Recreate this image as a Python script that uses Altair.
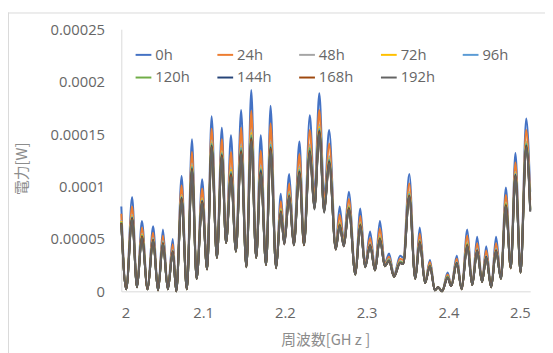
import altair as alt
import pandas as pd

# Frequency [GHz] of the read-off peaks/troughs
freq = [2.0000, 2.0060, 2.0132, 2.0192, 2.0252, 2.0321, 2.0389, 2.0449, 2.0509, 2.0569,
        2.0629, 2.0672, 2.0737, 2.0801, 2.0864, 2.0921, 2.0989, 2.1049, 2.1104, 2.1169,
        2.1229, 2.1281, 2.1341, 2.1401, 2.1465, 2.1529, 2.1589, 2.1649, 2.1705, 2.1770,
        2.1825, 2.1893, 2.1950, 2.1993, 2.2053, 2.2109, 2.2178, 2.2233, 2.2305, 2.2361,
        2.2421, 2.2481, 2.2541, 2.2622, 2.2670, 2.2721, 2.2782, 2.2862, 2.2922, 2.2982,
        2.3042, 2.3102, 2.3162, 2.3222, 2.3274, 2.3334, 2.3409, 2.3448, 2.3521, 2.3594,
        2.3649, 2.3714, 2.3774, 2.3834, 2.3874, 2.3922, 2.3990, 2.4034, 2.4102, 2.4162,
        2.4230, 2.4291, 2.4351, 2.4411, 2.4462, 2.4522, 2.4582, 2.4642, 2.4702, 2.4762,
        2.4819, 2.4882, 2.4951, 2.5000]

# Power values in microwatts, one list per series
p_0h = [81, 2, 90, 4, 67, 2, 62, 1, 59, 2, 50, 0, 110, 2, 145, 12, 107, 21, 167, 34,
        156, 49, 149, 40, 173, 24, 192, 34, 149, 26, 177, 23, 93, 51, 112, 49, 143, 49, 168, 93,
        189, 90, 154, 45, 81, 49, 95, 18, 79, 26, 57, 23, 67, 27, 36, 16, 34, 32, 112, 13,
        61, 9, 30, 1, 4, 0, 18, 6, 34, 2, 59, 7, 52, 10, 43, 4, 52, 13, 99, 24,
        132, 20, 165, 95]
p_24h = [74, 2, 81, 4, 61, 2, 56, 1, 53, 2, 45, 0, 101, 2, 133, 12, 98, 21, 155, 33,
         145, 48, 133, 39, 156, 24, 172, 33, 134, 26, 160, 23, 86, 49, 103, 47, 131, 47, 154, 87,
         173, 84, 141, 43, 73, 47, 88, 17, 72, 25, 51, 22, 60, 26, 33, 15, 31, 30, 103, 13,
         55, 9, 28, 1, 4, 0, 16, 6, 31, 2, 53, 7, 46, 10, 39, 4, 46, 13, 92, 23,
         123, 19, 154, 87]
p_48h = [68, 2, 73, 4, 55, 2, 51, 1, 48, 2, 40, 0, 92, 2, 122, 12, 89, 21, 144, 32,
         134, 47, 118, 38, 140, 23, 154, 32, 120, 25, 143, 22, 79, 46, 95, 45, 119, 45, 140, 81,
         159, 78, 129, 41, 66, 44, 82, 16, 66, 24, 46, 21, 53, 25, 31, 14, 29, 27, 95, 12,
         49, 8, 25, 1, 4, 0, 14, 5, 28, 2, 47, 6, 41, 9, 34, 4, 41, 12, 85, 22,
         114, 18, 143, 80]
p_72h = [67, 2, 72, 4, 54, 2, 50, 1, 47, 2, 39, 0, 91, 2, 120, 12, 88, 21, 142, 32,
         133, 46, 116, 38, 138, 23, 151, 32, 118, 25, 141, 22, 78, 46, 94, 45, 117, 45, 138, 80,
         157, 77, 127, 41, 65, 44, 81, 16, 65, 23, 45, 20, 52, 24, 30, 14, 28, 27, 94, 12,
         48, 8, 25, 1, 4, 0, 14, 5, 27, 2, 46, 6, 40, 9, 33, 4, 40, 12, 84, 22,
         113, 18, 142, 79]
p_96h = [66, 2, 71, 4, 53, 2, 50, 1, 47, 2, 39, 0, 90, 2, 119, 12, 87, 21, 141, 32,
         132, 46, 114, 38, 137, 23, 149, 32, 117, 25, 140, 22, 77, 46, 93, 45, 116, 45, 137, 80,
         155, 77, 126, 41, 64, 44, 80, 16, 64, 23, 45, 20, 51, 24, 30, 14, 28, 27, 93, 12,
         48, 8, 25, 1, 4, 0, 14, 5, 27, 2, 45, 6, 40, 9, 33, 4, 40, 12, 83, 22,
         112, 18, 141, 78]
p_120h = [66, 2, 70, 4, 53, 2, 49, 1, 46, 2, 38, 0, 89, 2, 118, 12, 86, 21, 140, 32,
          131, 46, 113, 38, 135, 23, 148, 32, 116, 25, 138, 22, 77, 46, 92, 44, 115, 44, 136, 79,
          154, 76, 125, 40, 64, 44, 80, 16, 64, 23, 44, 20, 51, 24, 30, 14, 28, 27, 92, 12,
          48, 8, 25, 1, 4, 0, 14, 5, 27, 2, 45, 6, 39, 9, 33, 4, 39, 12, 83, 22,
          111, 18, 140, 78]
p_144h = [65, 2, 70, 4, 52, 2, 49, 1, 46, 2, 38, 0, 89, 2, 117, 12, 86, 21, 139, 32,
          130, 46, 112, 38, 134, 23, 146, 32, 115, 25, 137, 22, 76, 45, 91, 44, 114, 44, 134, 79,
          153, 76, 124, 40, 63, 43, 79, 16, 63, 23, 44, 20, 50, 24, 29, 14, 27, 26, 91, 12,
          47, 8, 24, 1, 4, 0, 13, 5, 27, 2, 44, 6, 39, 9, 33, 4, 39, 12, 82, 22,
          111, 18, 139, 77]
p_168h = [65, 2, 69, 4, 52, 2, 49, 1, 46, 2, 38, 0, 88, 2, 116, 12, 85, 21, 138, 32,
          129, 46, 111, 38, 133, 23, 145, 32, 113, 25, 136, 22, 76, 45, 91, 44, 113, 44, 133, 79,
          152, 76, 123, 40, 63, 43, 79, 16, 63, 23, 44, 20, 50, 24, 29, 14, 27, 26, 91, 12,
          47, 8, 24, 1, 4, 0, 13, 5, 26, 2, 44, 6, 39, 9, 32, 4, 39, 12, 82, 22,
          110, 18, 138, 77]
p_192h = [64, 2, 68, 4, 51, 2, 48, 1, 45, 2, 37, 0, 87, 2, 115, 12, 84, 21, 137, 32,
          128, 46, 109, 38, 131, 23, 143, 32, 112, 25, 134, 22, 75, 45, 90, 44, 112, 44, 132, 78,
          150, 75, 122, 40, 62, 43, 78, 16, 62, 23, 43, 20, 49, 24, 29, 14, 27, 26, 90, 12,
          46, 8, 24, 1, 4, 0, 13, 5, 26, 2, 43, 6, 38, 9, 32, 4, 38, 12, 81, 22,
          109, 18, 137, 76]

series_names = ["0h", "24h", "48h", "72h", "96h", "120h", "144h", "168h", "192h"]
series_vals = [p_0h, p_24h, p_48h, p_72h, p_96h, p_120h, p_144h, p_168h, p_192h]
series_colors = ["#4472C4", "#ED7D31", "#A5A5A5", "#FFC000", "#5B9BD5",
                 "#70AD47", "#264478", "#9E480E", "#636363"]

rows = []
for name, vals in zip(series_names, series_vals):
    for f, v in zip(freq, vals):
        rows.append({"freq": f, "power": v * 1e-6, "series": name})
df = pd.DataFrame(rows)

CJK = "Noto Sans CJK JP"
LATIN = "Open Sans"
LABEL_COLOR = "#666666"

color = alt.Color(
    "series:N",
    scale=alt.Scale(domain=series_names, range=series_colors),
    legend=alt.Legend(
        title=None, orient="none", legendX=13.5, legendY=17, columns=5,
        direction="horizontal", symbolType="stroke", symbolSize=256,
        symbolStrokeWidth=2, labelFontSize=15, labelColor=LABEL_COLOR,
        labelFont=LATIN, labelFontWeight=400, gridAlign="all",
        columnPadding=24, rowPadding=6, labelOffset=3, padding=0,
    ),
)

x_enc = alt.X(
    "freq:Q",
    scale=alt.Scale(domain=[2, 2.5], nice=False, zero=False),
    axis=alt.Axis(
        values=[2, 2.1, 2.2, 2.3, 2.4, 2.5], format=".1~f", title="周波数[GH z ]",
        grid=False, ticks=False, domainColor="#D9D9D9", domainWidth=1,
        labelFontSize=15, labelColor=LABEL_COLOR, labelFont=LATIN, labelFontWeight=400,
        labelPadding=15,
        titleFontSize=15, titleColor="#8C8C8C", titleFont=CJK, titleFontWeight=400,
        titleX=207, titleY=49, titleAlign="center", titleBaseline="middle",
    ),
)
y_enc = alt.Y(
    "power:Q",
    scale=alt.Scale(domain=[0, 0.00025], nice=False),
    axis=alt.Axis(
        values=[0, 0.00005, 0.0001, 0.00015, 0.0002, 0.00025], format=".5~f",
        title="電力[W]", grid=False, ticks=False, domainColor="#D9D9D9", domainWidth=1,
        labelFontSize=15, labelColor=LABEL_COLOR, labelFont=LATIN, labelFontWeight=400,
        labelPadding=17,
        titleFontSize=15, titleColor="#8C8C8C", titleFont=CJK, titleFontWeight=400,
        titleX=-101, titleY=141, titleAlign="center", titleBaseline="middle", titleAngle=-90,
    ),
)

layers = []
for name in series_names:
    layers.append(
        alt.Chart(df[df["series"] == name])
        .mark_line(strokeWidth=2, interpolate="monotone")
        .encode(x=x_enc, y=y_enc, color=color)
    )

frame = pd.DataFrame({"a": [0]})
top_border = alt.Chart(frame).mark_rule(color="#D9D9D9", strokeWidth=1).encode(
    x=alt.value(-115), x2=alt.value(430), y=alt.value(-16.5)
)
left_border = alt.Chart(frame).mark_rule(color="#D9D9D9", strokeWidth=1).encode(
    x=alt.value(-114.5), y=alt.value(-17), y2=alt.value(330)
)

chart = alt.layer(top_border, left_border, *layers).properties(
    width=415, height=266,
    autosize=alt.AutoSizeParams(type="none"),
    padding={"left": 115, "top": 19, "right": 15, "bottom": 60},
).configure_view(stroke=None)

chart.save("out.html", embed_options={"renderer": "svg", "actions": False})
